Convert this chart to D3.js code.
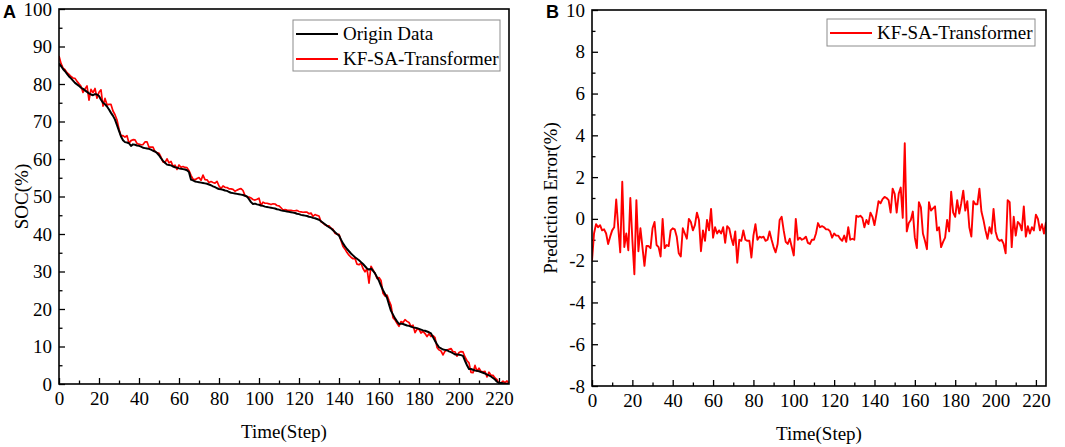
<!DOCTYPE html>
<html>
<head>
<meta charset="utf-8">
<script src="https://cdn.jsdelivr.net/npm/d3@7"></script>
<style>
  body { margin: 0; background: #fff; }
  svg { display: block; }
</style>
</head>
<body>
<div id="chart"></div>
<script>
const width = 1065, height = 447;

// time steps 0..225
const steps = d3.range(0, 226);

const originData = [
  85.5, 84.8, 84.0, 83.4, 82.7, 82.0, 81.5, 80.9, 80.3, 79.9,
  79.5, 79.0, 78.7, 78.3, 77.9, 77.5, 77.2, 77.0, 77.3, 77.2,
  76.8, 75.8, 75.0, 74.6, 74.0, 73.2, 72.3, 71.5, 70.5, 69.0,
  67.5, 66.0, 65.0, 64.5, 64.4, 64.2, 63.5, 63.9, 63.8, 63.6,
  63.5, 63.3, 63.0, 62.9, 62.8, 62.7, 62.5, 62.2, 62.0, 61.6,
  61.0, 60.2, 59.5, 59.0, 58.5, 58.4, 58.3, 58.0, 57.8, 57.7,
  57.5, 57.4, 57.3, 57.2, 57.0, 56.5, 54.5, 54.3, 54.0, 53.9,
  53.8, 53.7, 53.6, 53.5, 53.4, 53.2, 53.0, 52.7, 52.5, 52.2,
  52.0, 51.9, 51.8, 51.6, 51.5, 51.2, 51.0, 50.9, 50.8, 50.7,
  50.6, 50.5, 50.4, 50.2, 50.0, 49.3, 48.5, 48.0, 48.1, 47.9,
  47.8, 47.6, 47.5, 47.3, 47.2, 47.1, 47.0, 46.9, 46.8, 46.6,
  46.5, 46.3, 46.2, 46.1, 46.0, 45.9, 45.8, 45.7, 45.6, 45.4,
  45.3, 45.1, 45.0, 44.9, 44.8, 44.6, 44.5, 44.3, 44.2, 44.0,
  43.8, 43.4, 43.0, 42.6, 42.2, 41.8, 41.5, 41.0, 40.5, 40.0,
  39.6, 38.5, 37.5, 36.7, 36.0, 35.4, 34.8, 34.3, 33.8, 33.4,
  33.0, 32.5, 32.0, 31.4, 30.8, 30.5, 30.8, 30.2, 29.5, 28.5,
  27.5, 26.2, 25.0, 24.0, 23.0, 21.2, 19.5, 18.5, 17.5, 16.7,
  16.0, 16.1, 16.0, 15.8, 15.6, 15.5, 15.3, 15.1, 15.0, 14.9,
  14.7, 14.5, 14.3, 14.2, 14.0, 13.8, 13.5, 12.5, 11.5, 10.6,
  9.8, 9.5, 9.2, 9.1, 9.0, 8.7, 8.5, 8.2, 7.9, 7.9,
  7.8, 7.7, 7.5, 6.2, 5.0, 4.0, 4.0, 3.8, 3.6, 3.5,
  3.4, 3.2, 3.0, 2.8, 2.5, 2.3, 2.0, 1.6, 1.2, 0.6,
  0.3, 0.3, 0.2, 0.1, 0.1, 0.0
];

const predictedData = [
  87.5, 85.5, 84.25, 83.8, 83.0, 82.55, 82.0, 81.6, 81.5, 80.75,
  80.05, 79.4, 77.77, 78.7, 79.5, 75.72, 78.55, 77.7, 78.8, 76.2,
  77.8, 78.45, 74.1, 76.15, 74.45, 74.55, 74.55, 72.8, 71.8, 70.4,
  67.95, 66.15, 66.25, 65.85, 66.2, 64.2, 64.9, 65.15, 65.1, 64.15,
  63.95, 63.8, 63.85, 64.55, 64.6, 63.15, 63.2, 63.15, 62.0, 61.75,
  61.55, 60.5, 59.2, 59.05, 60.05, 58.95, 59.35, 58.05, 58.35, 57.22,
  58.4, 57.8, 58.0, 57.75, 57.7, 56.9, 55.65, 54.65, 54.45, 54.8,
  55.05, 54.3, 55.7, 54.5, 54.45, 53.75, 54.0, 53.75, 53.55, 54.05,
  52.8, 52.15, 52.8, 52.45, 52.4, 52.05, 52.05, 51.9, 51.4, 51.7,
  51.95, 52.1, 51.6, 50.25, 49.9, 49.85, 49.6, 49.2, 49.05, 49.25,
  49.55, 47.6, 48.5, 48.2, 48.2, 48.05, 47.85, 48.05, 48.0, 47.6,
  47.5, 47.0, 46.4, 46.5, 46.35, 46.3, 46.3, 46.2, 46.2, 46.3,
  46.0, 45.9, 45.8, 45.85, 45.85, 45.4, 45.6, 44.7, 45.2, 44.95,
  44.8, 43.25, 42.9, 42.45, 42.15, 42.2, 41.55, 41.25, 40.2, 39.9,
  39.9, 38.25, 36.65, 35.95, 35.05, 34.35, 33.8, 33.4, 33.5, 31.95,
  31.8, 32.2, 30.8, 29.9, 30.75, 26.88, 31.4, 30.4, 29.55, 28.15,
  28.4, 27.6, 24.2, 23.45, 23.7, 22.25, 20.95, 17.7, 17.1, 16.2,
  15.4, 16.65, 16.4, 17.15, 16.7, 16.4, 15.35, 15.7, 13.7, 14.6,
  14.6, 13.6, 14.05, 13.45, 12.65, 13.4, 12.65, 12.9, 12.35, 9.75,
  9.1, 8.8, 7.75, 8.75, 9.05, 9.25, 9.45, 8.6, 8.6, 7.42,
  8.4, 8.65, 8.55, 7.2, 6.2, 5.65, 3.1, 3.0, 4.95, 3.4,
  4.2, 3.35, 3.25, 3.35, 1.9, 3.15, 2.35, 2.3, 1.6, 1.15,
  0.1, 0.3, 0.75, 0.35, 0.8, 0.15
];

const errorData = [
  -2.0, -0.7, -0.25, -0.4, -0.3, -0.55, -0.5, -0.7, -1.2, -0.85,
  -0.55, -0.4, 0.93, -0.4, -1.6, 1.78, -1.35, -0.7, -1.5, 1.0,
  -1.0, -2.65, 0.9, -1.55, -0.45, -1.35, -2.25, -1.3, -1.3, -1.4,
  -0.45, -0.15, -1.25, -1.35, -1.8, 0.0, -1.4, -1.25, -1.3, -0.55,
  -0.45, -0.5, -0.85, -1.65, -1.8, -0.45, -0.7, -0.95, 0.0, -0.15,
  -0.55, -0.3, 0.3, -0.05, -1.55, -0.55, -1.05, -0.05, -0.55, 0.48,
  -0.9, -0.4, -0.7, -0.55, -0.7, -0.4, -1.15, -0.35, -0.45, -0.9,
  -1.25, -0.6, -2.1, -1.0, -1.05, -0.55, -1.0, -1.05, -1.05, -1.85,
  -0.8, -0.25, -1.0, -0.85, -0.9, -0.85, -1.05, -1.0, -0.6, -1.0,
  -1.35, -1.6, -1.2, -0.05, 0.1, -0.55, -1.1, -1.2, -0.95, -1.35,
  -1.75, 0.0, -1.0, -0.9, -1.0, -0.95, -0.85, -1.15, -1.2, -1.0,
  -1.0, -0.7, -0.2, -0.4, -0.35, -0.4, -0.5, -0.5, -0.6, -0.9,
  -0.7, -0.8, -0.8, -0.95, -1.05, -0.8, -1.1, -0.4, -1.0, -0.95,
  -1.0, 0.15, 0.1, 0.15, 0.05, -0.4, -0.05, -0.25, 0.3, 0.1,
  -0.3, 0.25, 0.85, 0.75, 0.95, 1.05, 1.0, 0.9, 0.3, 1.45,
  1.2, 0.3, 1.2, 1.5, 0.05, 3.62, -0.6, -0.2, -0.05, 0.35,
  -0.9, -1.4, 0.8, 0.55, -0.7, -1.05, -1.45, 0.8, 0.4, 0.5,
  0.6, -0.55, -0.4, -1.35, -1.1, -0.9, -0.05, -0.6, 1.3, 0.3,
  0.1, 0.9, 0.25, 0.75, 1.35, 0.4, 0.85, -0.4, -0.85, 0.85,
  0.7, 0.7, 1.45, 0.35, -0.05, -0.55, -0.95, -0.4, -0.7, 0.48,
  -0.6, -0.95, -1.05, -1.0, -1.2, -1.65, 0.9, 0.8, -1.35, 0.1,
  -0.8, -0.15, -0.25, -0.55, 0.6, -0.85, -0.35, -0.7, -0.4, -0.55,
  0.2, 0.0, -0.55, -0.25, -0.7, -0.15
];

const xTickValues = [0, 20, 40, 60, 80, 100, 120, 140, 160, 180, 200, 220];
const xMinorValues = [10, 30, 50, 70, 90, 110, 130, 150, 170, 190, 210];
const socTicks = [0, 10, 20, 30, 40, 50, 60, 70, 80, 90, 100];
const socMinor = [5, 15, 25, 35, 45, 55, 65, 75, 85, 95];
const errTicks = [-8, -6, -4, -2, 0, 2, 4, 6, 8, 10];
const errMinor = [-7, -5, -3, -1, 1, 3, 5, 7, 9];

const serif = "'Liberation Serif', 'Times New Roman', serif";
const sans = "'Liberation Sans', Arial, sans-serif";

const svg = d3.select("#chart")
  .append("svg")
  .attr("width", width)
  .attr("height", height)
  .attr("viewBox", `0 0 ${width} ${height}`);

const drawPanel = (p) => {
  const g = svg.append("g")
    .attr("transform", `translate(${p.left}, ${p.top})`);

  const x = d3.scaleLinear().domain([0, 225]).range([0, p.w]);
  const y = d3.scaleLinear().domain(p.yDomain).range([p.h, 0]);

  g.append("clipPath").attr("id", "clip" + p.name)
    .append("rect").attr("width", p.w).attr("height", p.h);

  // axes, ticks pointing inward
  const styleAxis = sel => {
    sel.select(".domain").remove();
    sel.selectAll("line").attr("stroke", "#000").attr("stroke-width", 1.3);
    sel.selectAll("text")
      .style("font-family", serif)
      .style("font-size", "19px")
      .attr("fill", "#000");
  };
  const plain = d => String(d); // hyphen minus like the original

  g.append("g")
    .attr("transform", `translate(0, ${p.h})`)
    .call(d3.axisBottom(x).tickValues(xTickValues).tickSize(-6).tickPadding(8).tickFormat(plain))
    .call(styleAxis);
  g.append("g")
    .attr("transform", `translate(0, ${p.h})`)
    .call(d3.axisBottom(x).tickValues(xMinorValues).tickSize(-3.5).tickFormat(""))
    .call(styleAxis);
  g.append("g")
    .call(d3.axisLeft(y).tickValues(p.yTicks).tickSize(-6).tickPadding(7).tickFormat(plain))
    .call(styleAxis);
  g.append("g")
    .call(d3.axisLeft(y).tickValues(p.yMinor).tickSize(-3.5).tickFormat(""))
    .call(styleAxis);

  const line = d3.line()
    .x((d, i) => x(steps[i]))
    .y(d => y(d));

  p.series.forEach(s => {
    g.append("path")
      .datum(s.values)
      .attr("clip-path", `url(#clip${p.name})`)
      .attr("fill", "none")
      .attr("stroke", s.color)
      .attr("stroke-width", s.width)
      .attr("stroke-linejoin", "round")
      .attr("d", line);
  });

  // frame
  g.append("rect")
    .attr("width", p.w)
    .attr("height", p.h)
    .attr("fill", "none")
    .attr("stroke", "#000")
    .attr("stroke-width", 1.6);

  // legend
  const lg = g.append("g")
    .attr("transform", `translate(${p.legend.x - p.left}, ${p.legend.y - p.top})`);
  lg.append("rect")
    .attr("width", p.legend.w)
    .attr("height", p.legend.h)
    .attr("fill", "#fff")
    .attr("stroke", "#8c8c8c")
    .attr("stroke-width", 1);
  p.legend.items.forEach((s, i) => {
    const yy = 14 + i * 25;
    lg.append("line")
      .attr("x1", 3).attr("x2", 45)
      .attr("y1", yy).attr("y2", yy)
      .attr("stroke", s.color)
      .attr("stroke-width", 2.2);
    lg.append("text")
      .attr("x", 50)
      .attr("y", yy + 6)
      .style("font-family", serif)
      .style("font-size", "19px")
      .text(s.label);
  });

  // axis titles
  g.append("text")
    .attr("x", p.w / 2)
    .attr("y", p.h + 54)
    .attr("text-anchor", "middle")
    .style("font-family", serif)
    .style("font-size", "19px")
    .text("Time(Step)");
  g.append("text")
    .attr("transform", `translate(${p.yTitleX - p.left}, ${p.h / 2}) rotate(-90)`)
    .attr("text-anchor", "middle")
    .style("font-family", serif)
    .style("font-size", "19px")
    .text(p.yTitle);

  // panel letter
  svg.append("text")
    .attr("x", p.letterX)
    .attr("y", 18)
    .style("font-family", sans)
    .style("font-weight", "bold")
    .style("font-size", "18px")
    .text(p.name);
};

const black = { label: "Origin Data", color: "#000", width: 2, values: originData };
const redA = { label: "KF-SA-Transformer", color: "#ff0000", width: 1.7, values: predictedData };
const redB = { label: "KF-SA-Transformer", color: "#ff0000", width: 1.9, values: errorData };

drawPanel({
  name: "A", left: 59, top: 9, w: 450, h: 375,
  yDomain: [0, 100], yTicks: socTicks, yMinor: socMinor,
  yTitle: "SOC(%)", yTitleX: 28, letterX: 3,
  series: [redA, black],
  legend: { x: 293, y: 20, w: 207, h: 51, items: [black, redA] }
});

drawPanel({
  name: "B", left: 592, top: 10, w: 454, h: 376,
  yDomain: [-8, 10], yTicks: errTicks, yMinor: errMinor,
  yTitle: "Prediction Error(%)", yTitleX: 557, letterX: 546,
  series: [redB],
  legend: { x: 827, y: 19, w: 208, h: 27, items: [redB] }
});
</script>
</body>
</html>
